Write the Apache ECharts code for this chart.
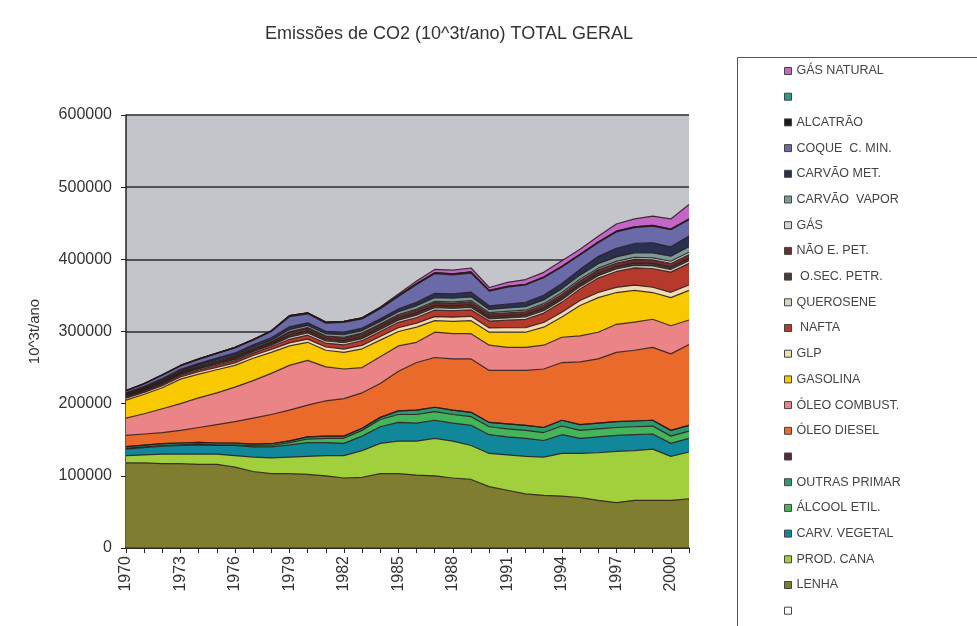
<!DOCTYPE html>
<html>
<head>
<meta charset="utf-8">
<script src="https://cdn.jsdelivr.net/npm/echarts@6/dist/echarts.min.js"></script>
<style>
html,body{margin:0;padding:0;background:#fff;}
#c{width:977px;height:626px;}
</style>
</head>
<body>
<div id="c"></div>
<script>
const years = ['1970','1971','1972','1973','1974','1975','1976','1977','1978','1979','1980','1981','1982','1983','1984','1985','1986','1987','1988','1989','1990','1991','1992','1993','1994','1995','1996','1997','1998','1999','2000','2001'];

const blankBottom = [0,0,0,0,0,0,0,0,0,0,0,0,0,0,0,0,0,0,0,0,0,0,0,0,0,0,0,0,0,0,0,0];
const lenha = [118000,118000,117000,117000,116000,116000,112000,106000,103000,103000,102000,100000,97000,98000,103000,103000,101000,100000,97000,95000,85000,80000,75000,73000,72000,70000,66000,63000,66000,66000,66000,68000];
const prodCana = [10000,11000,13000,13000,14000,14000,16000,20000,22000,23000,25000,28000,31000,37000,42000,45000,47000,52000,51000,47000,46000,49000,52000,53000,59000,61000,66000,71000,69000,71000,61000,65000];
const carvVegetal = [9000,10000,11000,12000,13000,12000,14000,14000,15000,17000,19000,18000,17000,20000,23000,26000,25000,25000,25000,28000,26000,25000,25000,23000,26000,21000,22000,22000,22000,21000,18000,19000];
const alcoolEtil = [1000,1000,1000,1000,1000,1000,1000,1500,2000,3000,5000,6000,7000,8000,10000,11000,12000,12000,12000,12000,11000,11000,11000,11000,12000,11000,11000,11000,11000,11000,10000,10000];
const outrasPrimar = [2500,2500,2500,2500,2500,2500,2500,2500,2500,2500,3000,3000,3000,3000,3000,5000,6000,6000,6000,6000,6000,7000,7000,7000,8000,8000,8000,8000,8000,8000,8000,8000];
const blankMid = [0,0,0,0,0,0,0,0,0,0,0,0,0,0,0,0,0,0,0,0,0,0,0,0,0,0,0,0,0,0,0,0];
const oleoDiesel = [15500,15500,15500,17500,20500,25500,29500,36000,40500,42500,44000,49000,52000,49000,47000,55000,66000,69000,71000,74000,72000,74000,76000,81000,80000,87000,89000,96000,98000,101000,106000,112000];
const oleoCombust = [24000,28000,33000,37000,41000,44000,48000,52000,57000,62000,62000,47000,41000,35000,37000,35000,28000,35000,35000,35000,35000,32000,32000,33000,35000,36000,37000,39000,39000,39000,39000,34000];
const gasolina = [25000,27000,29000,34000,33000,32000,30000,31000,29000,27000,25000,23000,23000,26000,23000,20000,21000,16000,17000,18000,18000,21000,21000,25000,28000,42000,48000,44000,44000,37000,39000,41000];
const glp = [2500,2600,2800,3000,3200,3400,3600,3800,4000,4200,4400,4500,4600,4800,5000,5200,5400,5600,5800,6000,6000,6200,6400,6500,6700,6900,7000,7200,7200,7300,7300,7400];
const nafta = [1500,1700,2000,2200,2500,2800,3000,3300,3800,5000,5500,5500,6000,6500,7000,7500,8000,9000,9000,9000,9500,10500,11500,13000,14000,16000,20000,22000,24000,26000,28000,30000];
const querosene = [1000,1100,1300,1400,1500,1600,1700,1800,2000,3000,3000,2800,2800,2800,2800,3000,3200,3300,3300,3400,3000,3100,3200,3300,3300,3300,3400,3400,3500,3500,3500,3600];
const oSecPetr = [1000,1100,1300,1400,1500,1600,1700,1800,2000,3000,3000,2800,3000,3000,3000,3000,3200,3300,3300,3400,3000,3100,3200,3300,3300,3300,3400,3400,3500,3500,3500,3600];
const naoEPet = [1000,1100,1300,1400,1500,1700,1800,1900,2200,3500,3500,3200,3500,3500,3500,3500,3800,4000,4000,4200,3800,4000,4200,4400,4400,4500,4600,4700,4800,4900,5000,5100];
const gas = [500,500,600,600,700,700,800,800,900,1000,1000,1000,1100,1200,1200,1300,1500,1600,1700,1800,1800,1900,2000,2100,2200,2300,2400,2500,2600,2800,3000,3200];
const carvaoVapor = [1000,1100,1300,1400,1500,1600,1700,1800,2000,3000,3000,3000,3500,3500,3500,3800,4500,5000,5000,5200,4500,4800,5000,5200,5500,5800,6000,6200,6400,6800,7000,7500];
const carvaoMet = [1500,1800,2200,2300,2500,2800,3000,3200,3500,3800,3600,3500,3800,3500,3500,4000,5000,6000,6000,6500,5000,5500,6000,6500,7000,8000,10000,12000,13000,14000,13000,15000];
const coque = [2500,3400,4500,4600,5300,6000,6800,6700,8600,14000,12500,11200,13200,12700,14000,17200,24400,27200,26400,26500,20400,23400,24000,24200,23100,19900,19200,22600,22000,23200,23700,22600];
const alcatrao = [500,600,700,700,800,800,900,900,1000,1500,1500,1500,1500,1500,1500,1500,1500,1500,1500,1500,1000,1000,1000,1000,1000,1000,1000,1000,1000,1000,1000,1000];
const blankTop = [0,0,0,0,0,0,0,0,0,0,0,0,0,0,0,0,0,0,0,0,0,0,0,0,0,0,0,0,0,0,0,0];
const gasNatural = [0,0,0,0,0,0,0,0,0,0,0,0,0,0,1000,2000,3500,4500,5000,5500,4000,5500,6500,6500,7500,7000,8000,10000,11000,13000,14000,20000];

const yTicks = ['0','100000','200000','300000','400000','500000','600000'];

// bottom of stack first
const seriesDefs = [
  ['   ', blankBottom, '#ffffff'],
  ['LENHA', lenha, '#7f7d30'],
  ['PROD. CANA', prodCana, '#a2d03c'],
  ['CARV. VEGETAL', carvVegetal, '#11889a'],
  ['ÁLCOOL ETIL.', alcoolEtil, '#46b45a'],
  ['OUTRAS PRIMAR', outrasPrimar, '#2e9870'],
  ['  ', blankMid, '#5a2838'],
  ['ÓLEO DIESEL', oleoDiesel, '#ea6a2c'],
  ['ÓLEO COMBUST.', oleoCombust, '#ea8486'],
  ['GASOLINA', gasolina, '#f8c800'],
  ['GLP', glp, '#f2dcb4'],
  [' NAFTA', nafta, '#b53a2c'],
  ['QUEROSENE', querosene, '#d6d4c4'],
  [' O.SEC. PETR.', oSecPetr, '#4d3a32'],
  ['NÃO E. PET.', naoEPet, '#6e2c2c'],
  ['GÁS', gas, '#cfd6d6'],
  ['CARVÃO  VAPOR', carvaoVapor, '#7c9a98'],
  ['CARVÃO MET.', carvaoMet, '#2a3050'],
  ['COQUE  C. MIN.', coque, '#6a6aa8'],
  ['ALCATRÃO', alcatrao, '#1a1a1a'],
  [' ', blankTop, '#2e9a8a'],
  ['GÁS NATURAL', gasNatural, '#c466c6']
];

const series = seriesDefs.map(([name, data, color]) => ({
  name: name,
  type: 'line',
  stack: 'total',
  data: data,
  symbol: 'none',
  smooth: false,
  itemStyle: { color: color, borderColor: '#333', borderWidth: 1 },
  lineStyle: { color: 'rgba(40,25,25,0.85)', width: 1.2 },
  areaStyle: { color: color, opacity: 1 },
  emphasis: { disabled: true },
  animation: false
}));

const legendOrder = seriesDefs.map(d => d[0]).reverse();

const chart = echarts.init(document.getElementById('c'), null, { renderer: 'canvas' });
chart.setOption({
  backgroundColor: '#ffffff',
  animation: false,
  title: {
    text: 'Emissões de CO2 (10^3t/ano) TOTAL GERAL',
    left: 444,
    top: 20,
    textAlign: 'center',
    textStyle: { fontFamily: 'Liberation Sans, Arial', fontSize: 18, fontWeight: 'normal', color: '#333' }
  },
  grid: {
    left: 126, right: 288, top: 115, bottom: 78,
    show: true, backgroundColor: '#c4c4cb', borderWidth: 0
  },
  legend: {
    orient: 'vertical',
    left: 779,
    top: 59,
    data: legendOrder,
    icon: 'rect',
    itemWidth: 7,
    itemHeight: 7,
    itemGap: 11.7,
    selectedMode: false,
    textStyle: { fontFamily: 'Liberation Sans, Arial', fontSize: 12.5, color: '#444', lineHeight: 14 },
    itemStyle: { borderColor: '#444', borderWidth: 1 }
  },
  graphic: [{
    type: 'rect',
    shape: { x: 737.5, y: 57.5, width: 300, height: 620 },
    style: { fill: 'none', stroke: '#555', lineWidth: 1 },
    silent: true,
    z: 100
  }],
  xAxis: {
    type: 'category',
    data: years,
    boundaryGap: false,
    axisLine: { lineStyle: { color: '#222', width: 1.5 } },
    axisTick: { show: true, interval: 0, length: 5, lineStyle: { color: '#222' } },
    axisLabel: { interval: 2, rotate: 90, fontFamily: 'Liberation Sans, Arial', fontSize: 16, color: '#333', margin: 8 },
    splitLine: { show: false }
  },
  yAxis: {
    type: 'value',
    min: 0, max: 600000, interval: 100000,
    name: '10^3t/ano',
    nameLocation: 'middle',
    nameGap: 84,
    nameRotate: 90,
    nameTextStyle: { fontFamily: 'Liberation Sans, Arial', fontSize: 15, color: '#333' },
    axisLine: { show: true, lineStyle: { color: '#222', width: 1.5 } },
    axisTick: { show: true, length: 5, lineStyle: { color: '#222' } },
    axisLabel: { fontFamily: 'Liberation Sans, Arial', fontSize: 16, color: '#333', margin: 14,
      formatter: v => yTicks[Math.round(v / 100000)] },
    splitLine: { show: true, lineStyle: { color: '#2d2d2d', width: 1.6 } }
  },
  series: series
});
</script>
</body>
</html>
